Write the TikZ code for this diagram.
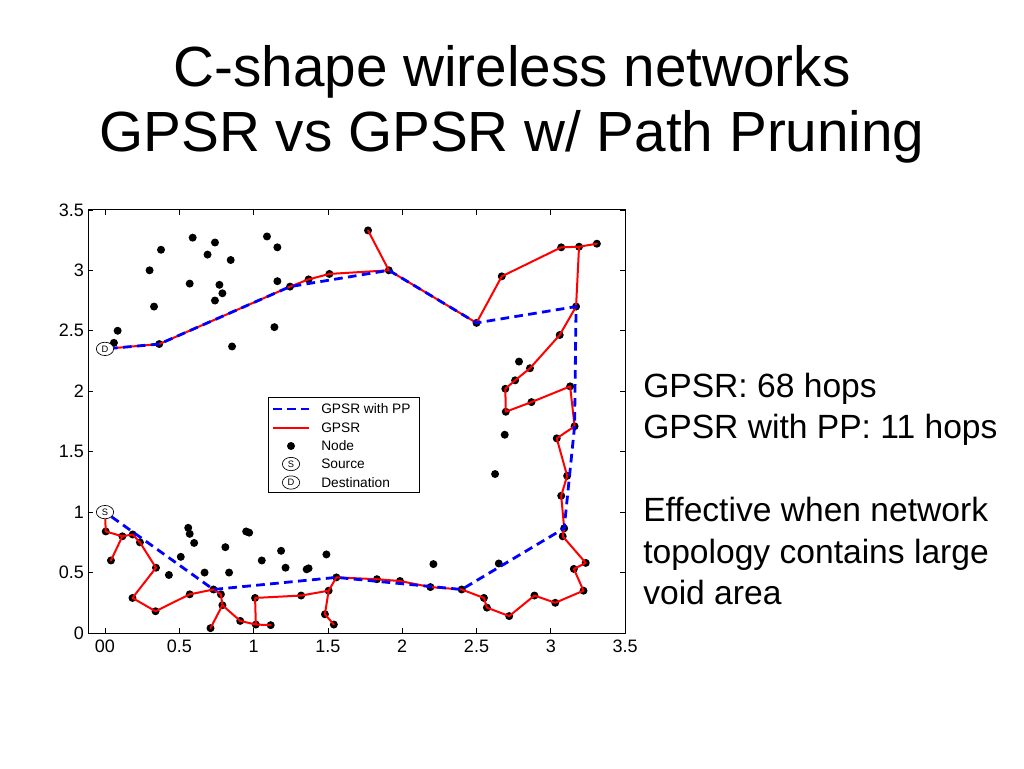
\documentclass[tikz,border=0pt]{standalone}
\usepackage{fontspec}
\setmainfont{Liberation Sans}
\usepackage{tikz}
\usetikzlibrary{shapes}
\tikzset{>=latex}

\begin{document}
\begin{tikzpicture}[x=0.75pt, y=-0.75pt,
    gpsr/.style={draw=red, line width=1.5pt, line join=round},
    pp/.style={draw=blue, line width=2.1pt, dash pattern=on 6.5pt off 4pt},
    endpt/.style={ellipse, draw, fill=white, line width=0.5pt, minimum width=13pt, minimum height=10pt, inner sep=0pt, font=\fontsize{7}{8}\selectfont},
    ticklab/.style={inner sep=0pt, font=\fontsize{13.5}{16}\selectfont},
    legtext/.style={anchor=west, inner sep=0pt, font=\fontsize{10.3}{12}\selectfont},
    bigtext/.style={anchor=base west, inner sep=0pt, font=\fontsize{25.2}{30}\selectfont}]
    \useasboundingbox (0,0) rectangle (1024,768);

    % Title
    \node[anchor=base, inner sep=0pt, font=\fontsize{42.5}{50}\selectfont] (title1) at (512,86) {C-shape wireless networks};
    \node[anchor=base, inner sep=0pt, font=\fontsize{42.5}{50}\selectfont] (title2) at (512,151) {GPSR vs GPSR w/ Path Pruning};

    % Plot
    \begin{scope}[shift={(105,633)}, x=111.45pt, y=90.675pt]
    % Axes
    \draw[line width=0.6pt] (-0.114,0) rectangle (3.5,3.5);
    \foreach \t/\lab in {0/00, 0.5/0.5, 1/1, 1.5/1.5, 2/2, 2.5/2.5, 3/3, 3.5/3.5} {
        \draw[line width=0.5pt] (\t,0) -- ++(0,3.8pt);
        \draw[line width=0.5pt] (\t,3.5) -- ++(0,-3.8pt);
        \node[ticklab, anchor=north, yshift=-5pt] (xl\t) at (\t,0) {\lab};
    }
    \foreach \t/\lab in {0/0, 0.5/0.5, 1/1, 1.5/1.5, 2/2, 2.5/2.5, 3/3, 3.5/3.5} {
        \draw[line width=0.5pt] (-0.114,\t) -- ++(3.8pt,0);
        \draw[line width=0.5pt] (3.5,\t) -- ++(-3.8pt,0);
        \node[ticklab, anchor=east, xshift=-3pt] (yl\t) at (-0.114,\t) {\lab};
    }

    % Nodes
    \foreach \x/\y in {0.06/2.40, 0.085/2.50, 0.30/3.00, 0.33/2.70, 0.377/3.17, 0.59/3.27, 0.57/2.89,
        0.69/3.13, 0.74/3.23, 0.77/2.88, 0.79/2.81, 0.74/2.75, 0.846/3.085, 0.855/2.37, 1.09/3.28,
        1.16/3.19, 1.16/2.91, 1.14/2.53, 2.786/2.245, 2.69/1.64, 2.625/1.315, 2.65/0.575, 2.21/0.57,
        0.56/0.87, 0.57/0.82, 0.60/0.745, 0.51/0.63, 0.43/0.48, 0.67/0.50, 0.835/0.50, 0.81/0.71,
        0.95/0.84, 0.97/0.83, 1.055/0.60, 1.185/0.68, 1.215/0.54, 1.357/0.527, 1.37/0.535, 1.49/0.65}
        \fill (\x,\y) circle (3pt);
    % Nodes on the routes
    \foreach \x/\y in {0.005/0.84, 0.117/0.80, 0.04/0.60, 0.186/0.815, 0.235/0.75, 0.343/0.54,
        0.185/0.29, 0.34/0.18, 0.57/0.32, 0.73/0.36, 0.78/0.32, 0.79/0.23, 0.71/0.04, 0.91/0.10,
        1.015/0.07, 1.115/0.065, 1.01/0.29, 1.32/0.31, 1.505/0.35, 1.48/0.155, 1.54/0.07, 1.557/0.46,
        1.83/0.445, 1.985/0.43, 2.19/0.38, 2.40/0.36, 2.55/0.29, 2.57/0.21, 2.72/0.14, 2.89/0.31,
        3.03/0.25, 3.22/0.35, 3.155/0.53, 3.235/0.58, 3.08/0.80, 3.09/0.866, 3.07/1.135, 3.11/1.30,
        3.04/1.61, 3.16/1.71, 3.13/2.04, 2.87/1.91, 2.697/1.83, 2.694/2.02, 2.76/2.09, 2.86/2.19,
        3.06/2.465, 3.17/2.70, 3.19/3.195, 3.31/3.22, 3.07/3.19, 2.67/2.95, 2.50/2.565, 1.91/3.00,
        1.77/3.33, 1.51/2.97, 1.37/2.925, 1.245/2.865, 0.365/2.39}
        \fill (\x,\y) circle (3pt);

    % Source and destination
    \node[endpt] (src) at (0,1.0) {S};
    \node[endpt] (dst) at (0,2.35) {D};

    % GPSR
    \draw[gpsr] (src) -- (0.005,0.84) -- (0.117,0.80) -- (0.04,0.60) -- (0.117,0.80) -- (0.186,0.815)
        -- (0.235,0.75) -- (0.343,0.54) -- (0.185,0.29) -- (0.34,0.18) -- (0.57,0.32) -- (0.73,0.36)
        -- (0.78,0.32) -- (0.79,0.23) -- (0.71,0.04) -- (0.79,0.23) -- (0.91,0.10) -- (1.015,0.07)
        -- (1.115,0.065) -- (1.015,0.07) -- (1.01,0.29) -- (1.32,0.31) -- (1.505,0.35) -- (1.48,0.155)
        -- (1.54,0.07) -- (1.48,0.155) -- (1.505,0.35) -- (1.557,0.46) -- (1.83,0.445) -- (1.985,0.43)
        -- (2.19,0.38) -- (2.40,0.36) -- (2.55,0.29) -- (2.57,0.21) -- (2.72,0.14) -- (2.89,0.31)
        -- (3.03,0.25) -- (3.22,0.35) -- (3.155,0.53) -- (3.235,0.58) -- (3.08,0.80) -- (3.09,0.866)
        -- (3.07,1.135) -- (3.11,1.30) -- (3.04,1.61) -- (3.16,1.71) -- (3.13,2.04) -- (2.87,1.91)
        -- (2.697,1.83) -- (2.694,2.02) -- (2.76,2.09) -- (2.86,2.19) -- (3.06,2.465) -- (3.17,2.70)
        -- (3.19,3.195) -- (3.31,3.22) -- (3.19,3.195) -- (3.07,3.19) -- (2.67,2.95) -- (2.50,2.565)
        -- (1.91,3.00) -- (1.77,3.33) -- (1.91,3.00) -- (1.51,2.97) -- (1.37,2.925) -- (1.245,2.865)
        -- (0.365,2.39) -- (dst);
    % GPSR with PP
    \draw[pp] (src) -- (0.73,0.36) -- (1.557,0.46) -- (2.40,0.36) -- (3.09,0.866) -- (3.16,1.71)
        -- (3.17,2.70) -- (2.50,2.565) -- (1.91,3.00) -- (1.245,2.865) -- (0.365,2.39) -- (dst);
    \end{scope}

    % Legend
    \draw[fill=white, line width=0.5pt] (268,397) rectangle (419,492);
    \coordinate (ppa) at (273,409);
    \coordinate (ppb) at (309,409);
    \coordinate (gpa) at (273,428);
    \coordinate (gpb) at (309,428);
    \draw[pp] (ppa) -- (ppb);
    \draw[gpsr] (gpa) -- (gpb);
    \fill (291,446) circle (3pt);
    \node[endpt] (legS) at (291,464) {S};
    \node[endpt] (legD) at (291,482.5) {D};
    \node[legtext] (t1) at (321,409) {GPSR with PP};
    \node[legtext] (t2) at (321,427.5) {GPSR};
    \node[legtext] (t3) at (321,446) {Node};
    \node[legtext] (t4) at (321,464) {Source};
    \node[legtext] (t5) at (321,482.5) {Destination};

    % Text
    \node[bigtext] (h1) at (643,397) {GPSR: 68 hops};
    \node[bigtext] (h2) at (643,438.5) {GPSR with PP: 11 hops};
    \node[bigtext] (e1) at (643,521.5) {Effective when network};
    \node[bigtext] (e2) at (643,563) {topology contains large};
    \node[bigtext] (e3) at (643,604.5) {void area};
\end{tikzpicture}
\end{document}
